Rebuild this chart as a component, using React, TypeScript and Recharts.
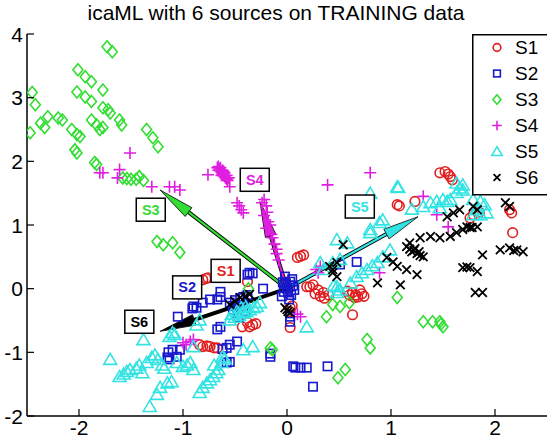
import React from 'react';
import { ScatterChart, Scatter, XAxis, YAxis, ReferenceLine, ReferenceDot, Legend } from 'recharts';

type P = { x: number; y: number };
const toPts = (a: number[][]): P[] => a.map(([x, y]) => ({ x, y }));

const titleText = 'icaML with 6 sources on TRAINING data';
const seriesNames = ['S1', 'S2', 'S3', 'S4', 'S5', 'S6'];
const seriesColors = ['#e01e1e', '#1818cc', '#33dd33', '#e01ee0', '#33e3e3', '#000000'];
const seriesMarkers = ['circle', 'square', 'diamond', 'plus', 'triangle', 'x'];
const xTicks = [-2, -1, 0, 1, 2];
const yTicks = [-2, -1, 0, 1, 2, 3, 4];
const xDomain = [-2.5, 2.5];
const yDomain = [-2, 4];

const s1Values = [
  [1.47, 1.82], [1.52, 1.84], [1.55, 1.8], [1.57, 1.76], [1.59, 1.71], [1.06, 1.32], [1.08, 1.3], [1.23, 1.37],
  [2.14, 1.24], [2.16, 1.19], [2.17, 0.88], [1.76, 1.11], [1.79, 1.16], [1.85, 1.2],
  [0.1, 0.49], [0.13, 0.51], [0.16, 0.53], [0.19, 0.03], [0.22, 0.03], [0.25, 0.06], [0.3, -0.02], [0.35, -0.06],
  [0.4, -0.1], [0.58, -0.04], [0.63, -0.06], [0.66, -0.1], [0.68, -0.13], [0.7, -0.02], [0.72, -0.08],
  [0.27, -0.08], [0.32, -0.12], [0.36, -0.15], [0.6, -0.1], [0.65, -0.14], [0.74, -0.12],
  [0.63, -0.41], [0.03, -0.3], [0.03, -0.36], [0.03, -0.61], [0.05, -0.27],
  [-0.81, 0.14], [-0.78, 0.16], [-0.76, 0.17], [-0.38, 0.11], [-0.36, -0.6], [-0.33, -0.57], [-0.38, -0.53],
  [-0.3, -0.55], [-0.43, -0.6], [-0.81, -0.91], [-0.77, -0.9], [-0.74, -0.91], [-0.7, -0.93], [-0.67, -0.93], [-0.84, -0.88],
];
const s2Values = [
  [-0.36, 0.25], [-0.38, 0.22], [-0.33, 0.24], [-0.23, 0.0], [-0.64, -0.05], [-0.64, -0.13], [-0.67, -0.17],
  [-0.74, -0.17], [-0.81, -0.22], [-0.9, -0.28], [-0.87, -0.3], [-0.91, -0.31], [-1.05, -0.44], [-0.52, -0.33],
  [-0.48, -0.38], [-0.45, -0.3], [-0.42, -0.28], [-0.4, -0.35], [-0.47, -0.45], [-0.64, -0.6], [-0.67, -0.64],
  [-0.48, -0.83], [-0.55, -0.88], [-0.58, -0.93], [-0.62, -0.95], [-1.1, -0.96], [-1.14, -1.0], [-1.15, -1.08],
  [-1.13, -1.11], [-1.03, -0.96], [-1.06, -1.07], [-0.55, -1.15], [-0.58, -1.16], [-0.16, -1.07], [-0.16, -1.02],
  [0.06, -1.22], [0.08, -1.24], [0.13, -1.24], [0.19, -1.24], [0.39, -1.22], [0.25, -1.54], [0.03, -0.44],
  [0.03, -0.52], [0.67, 0.42], [0.51, 0.38], [-0.02, 0.19], [0.03, 0.11], [0.0, 0.0], [-0.03, -0.05], [0.04, -0.1],
  [0.06, 0.05], [-0.04, 0.1], [0.02, -0.17], [0.05, 0.15], [-0.01, 0.08], [-0.03, 0.02], [0.01, -0.06],
  [-0.05, -0.12], [0.07, -0.02], [0.03, 0.05], [-0.55, -0.22], [-0.5, -0.18],
  [-0.45, -0.15], [-0.42, -0.13], [-0.52, -0.27], [-0.38, -0.1],
];
const s3Values = [
  [-1.73, 3.8], [-1.68, 3.72], [-2.45, 3.08], [-2.42, 2.89], [-2.47, 2.45], [-2.37, 2.6], [-2.33, 2.53],
  [-2.3, 2.7], [-2.2, 2.68], [-2.16, 2.65], [-2.01, 3.44], [-1.94, 3.33], [-1.88, 3.25], [-2.02, 3.09],
  [-1.94, 3.01], [-1.88, 2.94], [-1.77, 3.12], [-1.77, 2.84], [-1.72, 2.81], [-1.7, 2.76], [-1.88, 2.65],
  [-1.83, 2.57], [-1.8, 2.5], [-1.77, 2.53], [-1.61, 2.65], [-1.59, 2.57], [-2.07, 2.5], [-2.02, 2.42],
  [-1.99, 2.39], [-2.04, 2.18], [-2.02, 2.13], [-1.85, 1.98], [-1.83, 1.95], [-1.35, 2.5], [-1.29, 2.37],
  [-1.24, 2.23], [-1.58, 1.74], [-1.54, 1.73], [-1.5, 1.72], [-1.45, 1.72], [-1.42, 1.76], [-1.38, 1.7],
  [-1.25, 0.74], [-1.19, 0.69], [-1.1, 0.72], [-1.03, 0.57], [-0.37, 0.0], [-0.16, -0.93], [1.06, -0.14],
  [1.31, -0.52], [1.4, -0.52], [1.47, -0.52], [1.5, -0.6], [1.48, -0.56], [0.77, -0.8], [0.8, -0.93],
  [0.56, -1.27], [0.49, -1.4], [0.38, -0.44], [0.44, -0.25], [0.51, -0.28], [0.6, -0.22], [-0.14, -0.96],
];
const s4Values = [
  [-1.51, 2.13], [-1.8, 1.82], [-1.77, 1.82], [-1.61, 1.87], [-1.63, 1.74], [-1.3, 1.6], [-1.13, 1.6],
  [-1.08, 1.6], [-1.03, 1.55], [-0.76, 1.79], [-0.67, 1.9], [-0.65, 1.88], [-0.64, 1.85], [-0.63, 1.83],
  [-0.62, 1.8], [-0.61, 1.78], [-0.6, 1.76], [-0.59, 1.74], [-0.58, 1.72], [-0.66, 1.86], [-0.63, 1.78],
  [-0.66, 1.92], [-0.64, 1.9], [-0.62, 1.86], [-0.6, 1.82], [-0.58, 1.78], [-0.56, 1.74], [-0.61, 1.84],
  [-0.57, 1.7], [-0.55, 1.6], [-0.48, 1.35], [-0.46, 1.3], [-0.42, 1.19], [-0.44, 1.24],
  [-0.22, 1.4], [-0.24, 1.35], [-0.2, 1.3], [-0.19, 1.2], [-0.22, 1.15], [-0.18, 1.05], [-0.16, 1.0],
  [-0.2, 0.95], [-0.15, 0.85], [-0.14, 0.8], [-0.12, 0.7], [-0.1, 0.62],
  [-0.1, 0.55], [-0.08, 0.45], [0.39, 1.63], [0.8, 1.82], [1.31, 1.45], [1.44, 1.16], [1.55, 0.97],
  [0.89, 0.25], [0.32, 0.35], [0.3, 0.25], [0.28, 0.3], [0.13, -0.44], [0.1, -0.4],
  [-1.0, -0.85], [-0.93, -0.83], [-0.97, -0.88], [-0.9, -0.8],
];
const s5Values = [
  [-1.7, -1.11], [-1.38, -0.8], [-1.61, -1.38], [-1.57, -1.34], [-1.54, -1.3], [-1.51, -1.27], [-1.39, -1.32],
  [-1.45, -1.25], [-1.42, -1.2],
  [-1.35, -1.16], [-1.3, -1.08], [-1.27, -1.04], [-1.24, -1.11], [-1.32, -1.85], [-1.25, -1.66], [-1.22, -1.55],
  [-1.15, -1.48], [-1.11, -1.46], [-1.1, -0.69], [-1.13, -0.75], [-1.08, -0.72], [-0.87, -0.57], [-0.84, -0.49],
  [-1.06, -1.16], [-1.0, -1.22], [-0.96, -1.2], [-0.93, -1.16], [-0.9, -1.27], [-0.84, -1.63], [-0.81, -1.55],
  [-0.77, -1.48], [-0.74, -1.43], [-0.71, -1.38], [-0.68, -1.32], [-0.66, -1.27], [-0.63, -1.16], [-0.62, -1.07],
  [-0.6, -1.1], [-0.7, -1.2],
  [-0.42, -0.96], [-0.33, -0.91], [-0.9, -0.91], [-1.2, -1.2], [-1.18, -1.25],
  [-0.55, -0.49], [-0.5, -0.45], [-0.46, -0.42], [-0.42, -0.38], [-0.39, -0.36], [-0.36, -0.33], [-0.32, -0.3],
  [-0.29, -0.28], [-0.26, -0.22], [-0.48, -0.35], [-0.44, -0.3], [-0.4, -0.28], [-0.53, -0.4],
  [0.48, 0.03], [0.51, -0.02], [0.48, -0.06], [0.45, 0.05], [0.19, -0.6], [0.32, 0.41], [0.35, 0.3],
  [0.44, 0.41], [0.51, 0.46], [0.48, 0.77], [0.58, 0.72], [0.61, 0.09], [0.67, 0.19], [0.72, 0.25], [0.77, 0.3],
  [0.82, 0.36], [0.87, 0.41], [0.92, 0.5], [0.99, 0.61], [0.8, 0.88], [0.8, 0.93], [0.89, 1.04], [0.92, 1.08],
  [1.06, 1.6], [0.8, 1.5], [1.07, 1.59], [1.2, 1.25], [1.31, 1.29], [1.38, 1.35], [1.44, 1.37], [1.5, 1.4],
  [1.57, 1.4], [1.63, 1.51], [1.69, 1.55], [1.63, 1.66], [1.66, 1.58], [1.69, 1.63], [1.79, 1.4], [1.86, 1.37],
  [1.9, 1.32], [1.92, 1.19], [1.47, 1.27], [1.54, 1.37], [1.83, 1.24], [1.79, 1.16], [1.86, 1.16],
];
const s6Values = [
  [0.01, -0.36], [-0.02, -0.3], [0.03, -0.38], [0.0, -0.33], [-0.45, -0.14], [-0.36, -0.09], [-0.5, -0.2],
  [-0.4, -0.12], [-0.55, -0.25], [0.54, 0.69], [0.41, 0.35], [0.48, 0.41], [0.44, 0.25], [0.44, 0.3], [0.48, 0.19],
  [0.87, 0.09], [0.96, 0.49], [1.02, 0.42], [1.06, 0.35], [1.15, 0.3], [1.25, 0.22], [1.09, 0.06],
  [1.15, 0.66], [1.18, 0.62], [1.2, 0.58], [1.22, 0.6], [1.25, 0.55], [1.28, 0.52], [1.31, 0.5], [1.23, 0.63],
  [1.27, 0.58], [1.18, 0.72], [1.28, 0.8], [1.38, 0.82], [1.47, 0.8], [1.57, 0.82], [1.63, 0.88], [1.69, 0.93],
  [1.76, 0.96], [1.73, 0.97], [1.78, 0.96], [1.83, 0.97], [1.54, 1.13], [1.6, 1.19], [1.66, 1.24], [1.83, 1.24],
  [1.79, 1.29], [2.1, 1.35], [2.14, 1.29], [1.88, 0.53], [2.05, 0.61], [2.14, 0.64], [2.18, 0.6], [2.21, 0.61],
  [2.27, 0.58], [1.69, 0.33], [1.73, 0.34], [1.76, 0.33], [1.83, 0.27], [1.81, -0.06], [1.88, -0.06],
];
const seriesValues = [s1Values, s2Values, s3Values, s4Values, s5Values, s6Values];

// arrows from origin to tip (only visible ones)
const arrowSeries = ['S3', 'S4', 'S5', 'S6'];
const arrowTipX = [-1.22, -0.26, 1.26, -1.22];
const arrowTipY = [1.55, 1.37, 1.13, -0.67];
// label boxes
const labelSeries = ['S1', 'S2', 'S3', 'S4', 'S5', 'S6'];
const labelX = [-0.59, -0.96, -1.31, -0.31, 0.7, -1.42];
const labelY = [0.28, 0.02, 1.24, 1.71, 1.29, -0.52];

const FONT = '"Liberation Sans", Arial, Helvetica, sans-serif';
const colorOf = (n: string) => seriesColors[seriesNames.indexOf(n)];

function Marker({ kind, cx, cy, color, s = 1 }: { kind: string; cx: number; cy: number; color: string; s?: number }) {
  const common = { fill: 'none', stroke: color, strokeWidth: 1.6 };
  switch (kind) {
    case 'circle':
      return <circle cx={cx} cy={cy} r={4.8 * s} {...common} />;
    case 'square':
      return <rect x={cx - 4.2 * s} y={cy - 4.2 * s} width={8.4 * s} height={8.4 * s} {...common} />;
    case 'diamond':
      return <path d={`M${cx},${cy - 6 * s}L${cx + 5 * s},${cy}L${cx},${cy + 6 * s}L${cx - 5 * s},${cy}Z`} {...common} />;
    case 'plus':
      return <path d={`M${cx - 6 * s},${cy}H${cx + 6 * s}M${cx},${cy - 6 * s}V${cy + 6 * s}`} {...common} />;
    case 'triangle':
      return <path d={`M${cx},${cy - 6 * s}L${cx + 6.5 * s},${cy + 5 * s}L${cx - 6.5 * s},${cy + 5 * s}Z`} {...common} />;
    default:
      return <path d={`M${cx - 4.3 * s},${cy - 4.3 * s}L${cx + 4.3 * s},${cy + 4.3 * s}M${cx - 4.3 * s},${cy + 4.3 * s}L${cx + 4.3 * s},${cy - 4.3 * s}`} fill="none" stroke={color} strokeWidth={1.8} />;
  }
}

const arrowShape = (color: string) => (props: any) => {
  const { x1, y1, x2, y2 } = props;
  const dx = x2 - x1, dy = y2 - y1;
  const len = Math.hypot(dx, dy) || 1;
  const ux = dx / len, uy = dy / len;
  const hl = 36, hw = 5.5;
  const bx = x2 - ux * hl, by = y2 - uy * hl;
  const px = -uy, py = ux;
  return (
    <g>
      <line x1={x1} y1={y1} x2={bx} y2={by} stroke="#000" strokeWidth={4} />
      <line x1={x1} y1={y1} x2={bx} y2={by} stroke={color} strokeWidth={2.2} />
      <polygon
        points={`${x2},${y2} ${bx + px * hw},${by + py * hw} ${bx - px * hw},${by - py * hw}`}
        fill={color}
        stroke="#000"
        strokeWidth={0.8}
      />
    </g>
  );
};

const labelShape = (name: string) => (props: any) => {
  const { cx, cy } = props;
  return (
    <g>
      <rect x={cx - 14.5} y={cy - 11.5} width={29} height={23} fill="#fff" stroke="#000" strokeWidth={1.5} />
      <text x={cx} y={cy} textAnchor="middle" dominantBaseline="central" fontFamily={FONT} fontWeight="bold" fontSize={14.5} fill={colorOf(name)}>
        {name}
      </text>
    </g>
  );
};

const BottomTick = (props: any) => {
  const { x, y, payload } = props;
  const ay = y - 4;
  return (
    <g>
      <line x1={x} x2={x} y1={ay} y2={ay - 7} stroke="#000" strokeWidth={1.2} />
      <text x={x} y={y} textAnchor="middle" dominantBaseline="hanging" fontFamily={FONT} fontSize={21} fill="#000">
        {payload.value}
      </text>
    </g>
  );
};
const LeftTick = (props: any) => {
  const { x, y, payload } = props;
  const ax = x + 4;
  return (
    <g>
      <line x1={ax} x2={ax + 7} y1={y} y2={y} stroke="#000" strokeWidth={1.2} />
      <text x={x} y={y} textAnchor="end" dominantBaseline="central" fontFamily={FONT} fontSize={21} fill="#000">
        {payload.value}
      </text>
    </g>
  );
};
const TopTick = (props: any) => {
  const { x, y } = props;
  return <line x1={x} x2={x} y1={y} y2={y + 7} stroke="#000" strokeWidth={1.2} />;
};
const RightTick = (props: any) => {
  const { x, y } = props;
  return <line x1={x} x2={x - 7} y1={y} y2={y} stroke="#000" strokeWidth={1.2} />;
};

const LegendBox = () => (
  <svg width={80} height={162} style={{ display: 'block' }}>
    <rect x={0.75} y={0.75} width={90} height={160} fill="#fff" stroke="#000" strokeWidth={1.5} />
    {seriesNames.map((n, i) => (
      <g key={n}>
        <Marker kind={seriesMarkers[i]} cx={25} cy={13.5 + i * 26} color={seriesColors[i]} s={0.8} />
        <text x={43} y={13.5 + i * 26} dominantBaseline="central" fontFamily={FONT} fontSize={19} fill="#000">
          {n}
        </text>
      </g>
    ))}
  </svg>
);

export default function App() {
  return (
    <div style={{ position: 'absolute', left: 0, top: 0, width: 547, height: 444, background: '#fff' }}>
      <div
        style={{
          position: 'absolute', left: 0, top: 3, width: 552, textAlign: 'center',
          fontFamily: FONT, fontSize: 21, lineHeight: '20px', color: '#000', zIndex: 2,
        }}
      >
        {titleText}
      </div>
      <ScatterChart width={547} height={444} margin={{ top: 34, right: 0, bottom: 0, left: 0 }}>
        <XAxis xAxisId="b" type="number" dataKey="x" domain={xDomain} ticks={xTicks} allowDataOverflow
          orientation="bottom" height={28} tickSize={0} tickMargin={4} tickLine={false}
          axisLine={{ stroke: '#000', strokeWidth: 1.5 }} tick={<BottomTick />} interval={0} />
        <XAxis xAxisId="t" type="number" dataKey="x" domain={xDomain} ticks={xTicks} allowDataOverflow
          orientation="top" height={0} tickSize={0} tickMargin={0} tickLine={false}
          axisLine={{ stroke: '#000', strokeWidth: 1.5 }} tick={<TopTick />} interval={0} />
        <YAxis yAxisId="l" type="number" dataKey="y" domain={yDomain} ticks={yTicks} allowDataOverflow
          orientation="left" width={27} tickSize={0} tickMargin={4} tickLine={false}
          axisLine={{ stroke: '#000', strokeWidth: 1.5 }} tick={<LeftTick />} interval={0} />
        <YAxis yAxisId="r" type="number" dataKey="y" domain={yDomain} ticks={yTicks} allowDataOverflow
          orientation="right" width={0} tickSize={0} tickMargin={0} tickLine={false}
          axisLine={{ stroke: '#000', strokeWidth: 1.5 }} tick={<RightTick />} interval={0} />
        {seriesNames.map((n, i) => (
          <Scatter
            key={n}
            name={n}
            xAxisId="b"
            yAxisId="l"
            data={toPts(seriesValues[i])}
            fill={seriesColors[i]}
            isAnimationActive={false}
            shape={(p: any) => <Marker kind={seriesMarkers[i]} cx={p.cx} cy={p.cy} color={seriesColors[i]} />}
          />
        ))}
        {arrowSeries.map((n, i) => (
          <ReferenceLine
            key={'a' + n}
            xAxisId="b"
            yAxisId="l"
            segment={[{ x: 0, y: 0 }, { x: arrowTipX[i], y: arrowTipY[i] }]}
            shape={arrowShape(colorOf(n))}
            ifOverflow="visible"
          />
        ))}
        {labelSeries.map((n, i) => (
          <ReferenceDot
            key={'l' + n}
            xAxisId="b"
            yAxisId="l"
            x={labelX[i]}
            y={labelY[i]}
            r={1}
            shape={labelShape(n)}
            ifOverflow="visible"
          />
        ))}
        <Legend
          layout="horizontal"
          verticalAlign="middle"
          align="center"
          content={() => <LegendBox />}
          wrapperStyle={{ position: 'absolute', left: 472, top: 34, right: 'auto', bottom: 'auto', width: 80, height: 162 }}
        />
      </ScatterChart>
    </div>
  );
}
